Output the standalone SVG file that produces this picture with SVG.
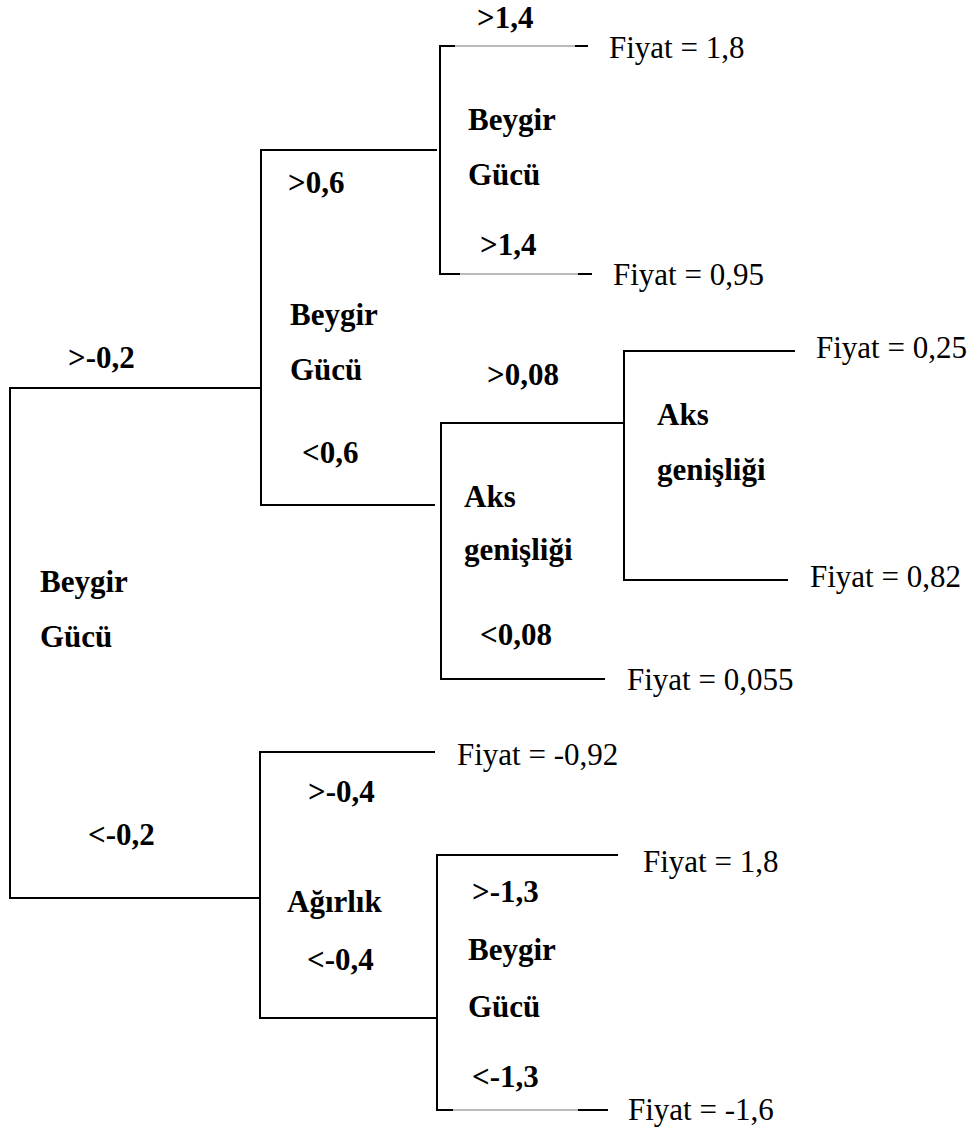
<svg xmlns="http://www.w3.org/2000/svg" width="972" height="1131" viewBox="0 0 972 1131">
<style>
.b{font-family:"Liberation Serif","Times New Roman",serif;font-weight:bold;font-size:31px;fill:#000}
.r{font-family:"Liberation Serif","Times New Roman",serif;font-size:31px;fill:#000}
.l{stroke:#000;stroke-width:2;fill:none}
.t{stroke:#777;stroke-width:1;fill:none}
</style>
<rect width="972" height="1131" fill="#fff"/>
<g id="connectors">
<path class="l" d="M261,388 H10 V898 H260"/>
<path class="l" d="M437,150 H261 V505 H435"/>
<path class="l" d="M624,423 H441 V679 H605"/>
<path class="l" d="M795,351 H624 V580 H788"/>
<path class="l" d="M435,752 H260 V1018 H437"/>
<path class="l" d="M455,46 H440 V274 H460"/>
<path class="t" d="M455,46 H575"/>
<path class="l" d="M575,46 H588"/>
<path class="t" d="M460,274 H578"/>
<path class="l" d="M578,274 H592"/>
<path class="l" d="M618,855 H437 V1110 H453"/>
<path class="t" d="M453,1110 H578"/>
<path class="l" d="M578,1110 H608"/>
</g>
<g id="n-root"><text class="b" x="40" y="592">Beygir</text><text class="b" x="40" y="647">Gücü</text></g>
<g id="l-root-hi"><text class="b" x="68" y="368">&gt;-0,2</text></g>
<g id="l-root-lo"><text class="b" x="88" y="845">&lt;-0,2</text></g>
<g id="n-beygir2"><text class="b" x="290" y="325">Beygir</text><text class="b" x="290" y="380">Gücü</text></g>
<g id="l-b2-hi"><text class="b" x="288" y="193">&gt;0,6</text></g>
<g id="l-b2-lo"><text class="b" x="302" y="463">&lt;0,6</text></g>
<g id="n-beygir3"><text class="b" x="468" y="130">Beygir</text><text class="b" x="468" y="185">Gücü</text></g>
<g id="l-b3-hi"><text class="b" x="477" y="28">&gt;1,4</text></g>
<g id="l-b3-lo"><text class="b" x="480" y="255">&gt;1,4</text></g>
<g id="leaf-1"><text class="r" x="609" y="58">Fiyat = 1,8</text></g>
<g id="leaf-2"><text class="r" x="613" y="285">Fiyat = 0,95</text></g>
<g id="n-aks1"><text class="b" x="464" y="507">Aks</text><text class="b" x="464" y="560">genişliği</text></g>
<g id="l-a1-hi"><text class="b" x="487" y="385">&gt;0,08</text></g>
<g id="l-a1-lo"><text class="b" x="480" y="645">&lt;0,08</text></g>
<g id="n-aks2"><text class="b" x="657" y="425">Aks</text><text class="b" x="657" y="480">genişliği</text></g>
<g id="leaf-3"><text class="r" x="816" y="358">Fiyat = 0,25</text></g>
<g id="leaf-4"><text class="r" x="810" y="587">Fiyat = 0,82</text></g>
<g id="leaf-5"><text class="r" x="627" y="690">Fiyat = 0,055</text></g>
<g id="n-agirlik"><text class="b" x="287" y="912">Ağırlık</text></g>
<g id="l-ag-hi"><text class="b" x="308" y="802">&gt;-0,4</text></g>
<g id="l-ag-lo"><text class="b" x="307" y="970">&lt;-0,4</text></g>
<g id="leaf-6"><text class="r" x="457" y="765">Fiyat = -0,92</text></g>
<g id="n-beygir4"><text class="b" x="468" y="960">Beygir</text><text class="b" x="468" y="1017">Gücü</text></g>
<g id="l-b4-hi"><text class="b" x="472" y="902">&gt;-1,3</text></g>
<g id="l-b4-lo"><text class="b" x="472" y="1087">&lt;-1,3</text></g>
<g id="leaf-7"><text class="r" x="643" y="872">Fiyat = 1,8</text></g>
<g id="leaf-8"><text class="r" x="628" y="1120">Fiyat = -1,6</text></g>
</svg>
